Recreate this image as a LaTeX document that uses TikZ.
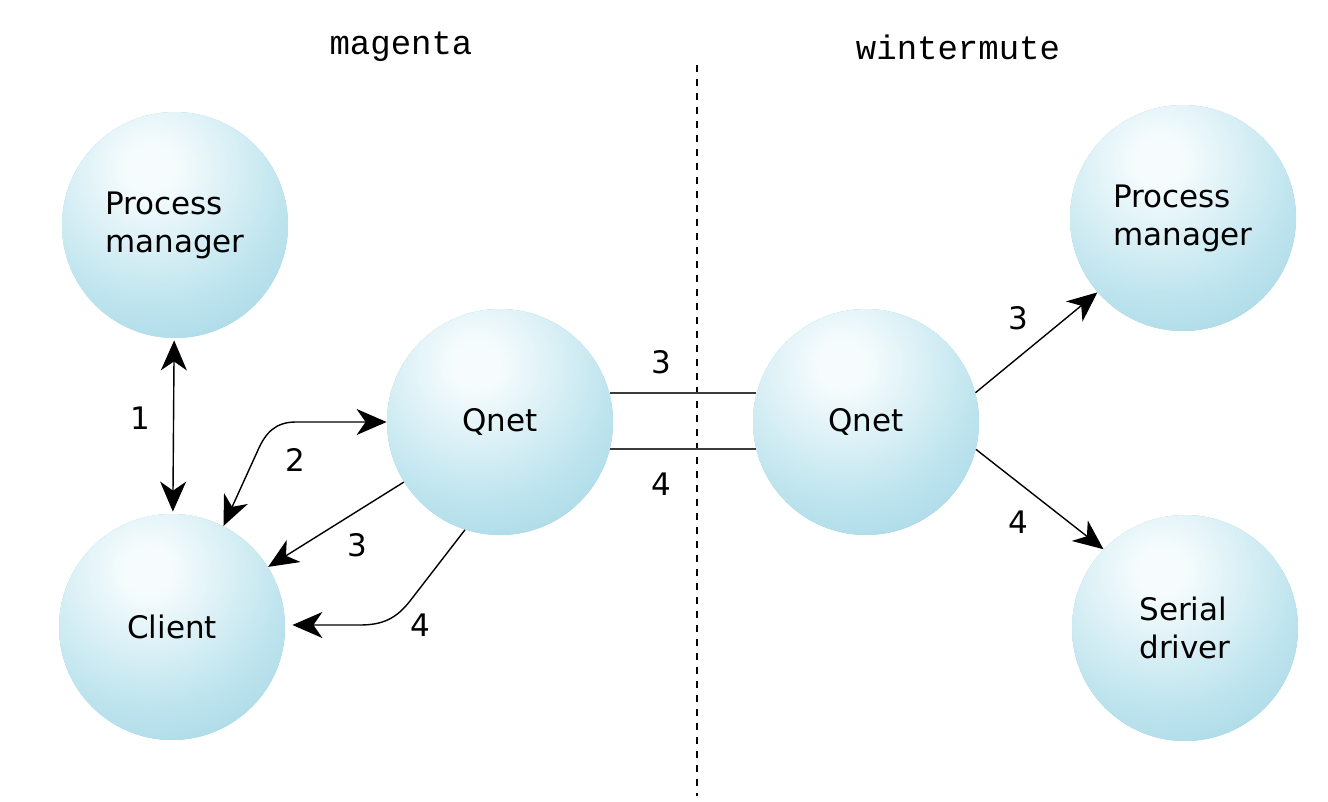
\documentclass[tikz,border=0pt]{standalone}
\usepackage{fontspec}
\setmainfont{DejaVu Sans}
\newfontfamily\monofont{Liberation Mono}
\usetikzlibrary{arrows.meta}
\definecolor{ballhi}{RGB}{246,252,253}
\definecolor{ballmid}{RGB}{190,228,238}
\definecolor{balledge}{RGB}{136,199,219}
\definecolor{linkgray}{RGB}{60,60,60}
\pgfdeclareradialshading{qball}{\pgfpoint{0bp}{0bp}}{color(0bp)=(ballhi); color(3bp)=(ballhi); color(18bp)=(ballmid); color(38bp)=(balledge); color(50bp)=(balledge)}
\tikzset{
  ball/.style={circle, minimum size=113pt, inner sep=0pt, align=left, fill=balledge,
    font=\fontsize{15.5}{19}\selectfont,
    path picture={\shade[shading=qball] ([shift={(-12pt,12pt)}]path picture bounding box.center) ++(0,-33) circle (95pt);}},
  lbl/.style={font=\fontsize{15.5}{19}\selectfont, inner sep=0pt},
  host/.style={font=\monofont\fontsize{17}{20}\selectfont, inner sep=0pt},
  tip/.tip={Stealth[length=15pt,width=13pt,inset=4.5pt]},
  arr/.style={line width=0.7pt, -tip},
  dblarr/.style={line width=0.7pt, tip-tip},
  link/.style={line width=1pt, draw=linkgray},
}
\begin{document}
\begin{tikzpicture}[x=0.5pt,y=-0.5pt]
\useasboundingbox (0,0) rectangle (1328,802);
\node[host] (hm) at (401,47) {magenta};
\node[host] (hw) at (958,47) {wintermute};
\coordinate (dtop) at (697,65);
\coordinate (dbot) at (697,796);
\draw[line width=0.75pt, dash pattern=on 3.5pt off 3.5pt] (dtop) -- (dbot);

\node[ball] (pml) at (175,225) {Process\\manager};
\node[ball] (cl)  at (172,627) {Client};
\node[ball] (qnl) at (500,422) {Qnet};
\node[ball] (qnr) at (866,422) {Qnet};
\node[ball] (pmr) at (1183,218) {Process\\manager};
\node[ball] (sd)  at (1185,628) {Serial\\driver};

% 1
\draw[dblarr, shorten <=1pt, shorten >=1pt] (pml) -- (cl);
\node[lbl] (l1) at (140,418) {1};
% 2
\draw[dblarr] (cl.63) -- (258,450) .. controls (266,432) and (276,422) .. (296,422) -- (qnl.west);
\node[lbl] (l2) at (295,460) {2};
% 3
\draw[arr] (qnl) -- (cl);
\node[lbl] (l3) at (357,545) {3};
% 4
\draw[arr, shorten >=3.5pt] (qnl.252) -- (410,601) .. controls (396,619) and (382,625) .. (360,625) -- (cl.east |- 0,625);
\node[lbl] (l4) at (420,625) {4};
% links
\draw[link] (qnl.15) -- (qnr.165);
\draw[link] (qnl.-14) -- (qnr.194);
\node[lbl] (l3m) at (661,362) {3};
\node[lbl] (l4m) at (661,484) {4};
% right
\draw[arr] (qnr.15) -- (pmr.221);
\node[lbl] (l3r) at (1018,318) {3};
\draw[arr] (qnr.346) -- (sd.136);
\node[lbl] (l4r) at (1018,522) {4};
\end{tikzpicture}
\end{document}
